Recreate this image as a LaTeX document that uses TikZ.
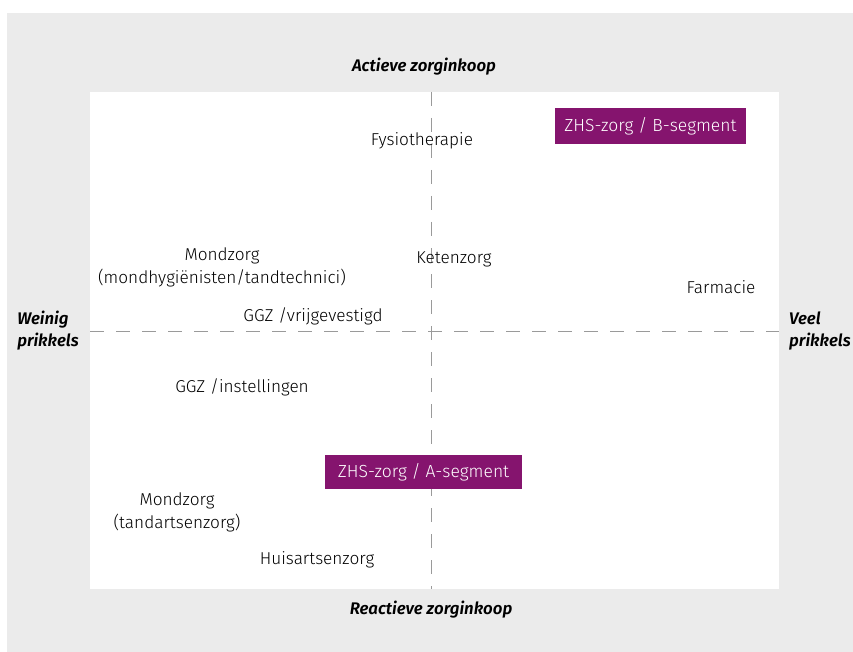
\documentclass[tikz,border=0pt]{standalone}
\usepackage{fontspec}
\setmainfont{Fira Sans}[UprightFont={* Light},ItalicFont={* Light Italic},BoldFont={* SemiBold},BoldItalicFont={* SemiBold Italic}]
\definecolor{bggray}{HTML}{EBEBEB}
\definecolor{dashgray}{HTML}{9A9A9A}
\definecolor{plum}{HTML}{85146E}
\begin{document}
\begin{tikzpicture}[x=1pt,y=-1pt,
  item/.style={font=\fontsize{17.2}{23}\selectfont, text=black, align=center, inner sep=0pt},
  axislabel/.style={font=\fontsize{16.8}{22}\selectfont\bfseries\itshape, inner sep=0pt},
  segbox/.style={fill=plum, text=white, font=\fontsize{17.5}{20}\selectfont, minimum height=36pt, inner sep=0pt},
  divider/.style={draw=dashgray, line width=1pt, dash pattern=on 14pt off 12pt}]
\useasboundingbox (0,0) rectangle (853,652);
\fill[bggray] (7,13) rectangle (853,652);
\fill[white] (90,92) rectangle (779,589);
\coordinate (vt) at (431,92);
\coordinate (vb) at (431,589);
\coordinate (hl) at (90,331);
\coordinate (hr) at (779,331);
\draw[divider] (vt) -- (vb);
\draw[divider] (hl) -- (hr);
\node[axislabel] (top) at (424,67) {Actieve zorginkoop};
\node[axislabel] (bot) at (431,610) {Reactieve zorginkoop};
\node[axislabel, align=left] (left) at (48,331) {Weinig\\prikkels};
\node[axislabel, align=left, anchor=west] (right) at (789,331) {Veel\\prikkels};
\node[item] (fys) at (422,141) {Fysiotherapie};
\node[segbox, minimum width=191pt] (bseg) at (650.5,126) {ZHS-zorg / B-segment};
\node[item] (mond1) at (222,267) {Mondzorg\\(mondhygiënisten/tandtechnici)};
\node[item] (keten) at (454,259) {Ketenzorg};
\node[item] (farm) at (721,287) {Farmacie};
\node[item] (ggzv) at (313,316) {GGZ /vrijgevestigd};
\node[item] (ggzi) at (242,387) {GGZ /instellingen};
\node[segbox, minimum width=197pt, minimum height=34pt] (aseg) at (423.5,472) {ZHS-zorg / A-segment};
\node[item] (mond2) at (177,512) {Mondzorg\\(tandartsenzorg)};
\node[item] (huis) at (317,560) {Huisartsenzorg};
\end{tikzpicture}
\end{document}
